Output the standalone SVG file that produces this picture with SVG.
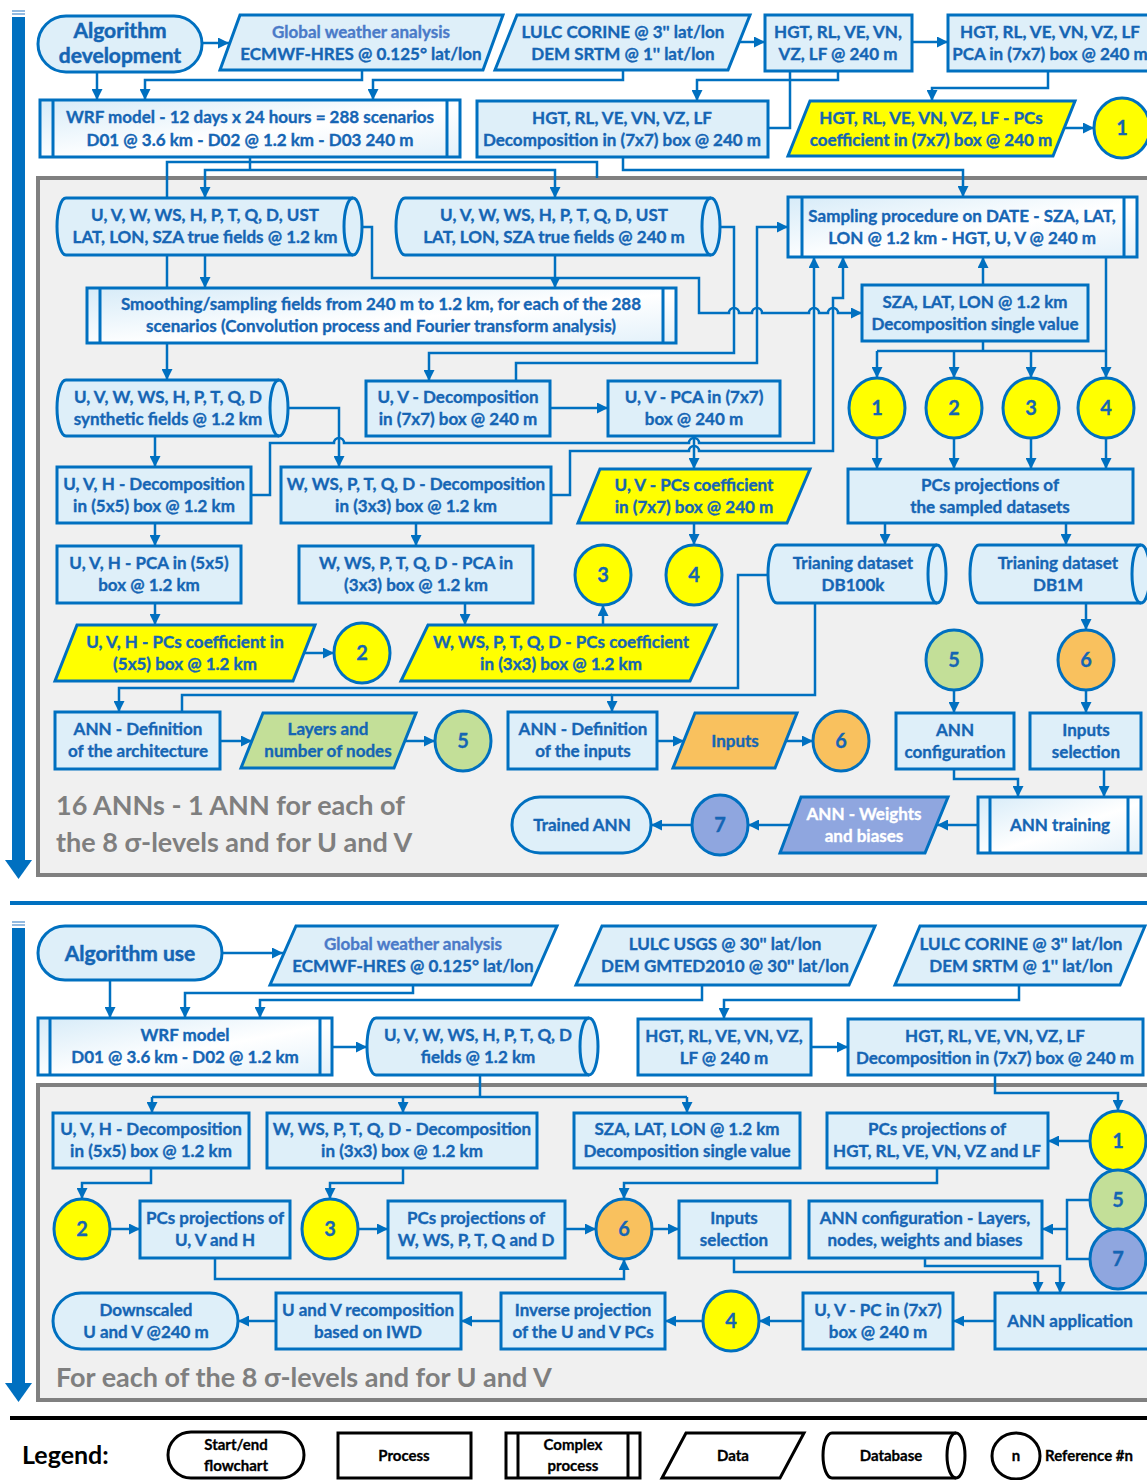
<svg xmlns="http://www.w3.org/2000/svg" width="1147" height="1480" viewBox="0 0 1147 1480">
<style>
.n{fill:#DEEFF9;stroke:#0070C0;stroke-width:3}
.x{fill:url(#cg);stroke:#0070C0;stroke-width:3}
.il{fill:none;stroke:#0070C0;stroke-width:3}
.yl{fill:#FFFF00;stroke:#0070C0;stroke-width:3}
.gr{fill:#C3DF98;stroke:#0070C0;stroke-width:3}
.or{fill:#F9C15E;stroke:#0070C0;stroke-width:3}
.pu{fill:#8FA6DF;stroke:#0070C0;stroke-width:3}
.t{font-family:Lato,'Liberation Sans',sans-serif;font-weight:700;font-size:17px;fill:#1565B4;stroke:#1565B4;stroke-width:0.35;text-anchor:middle}
.tw{fill:#FFFFFF;stroke:#FFFFFF}
.tg{fill:#4A7AC8;stroke:#4A7AC8}
.big{font-family:Lato,'Liberation Sans',sans-serif;font-weight:700;font-size:21px;fill:#1565B4;stroke:#1565B4;stroke-width:0.5;text-anchor:middle}
.num{font-family:Lato,'Liberation Sans',sans-serif;font-weight:700;font-size:20px;fill:#1565B4;stroke:#1565B4;stroke-width:0.3;text-anchor:middle}
.gt{font-family:Lato,'Liberation Sans',sans-serif;font-weight:700;font-size:27px;fill:#7F7F7F}
.c{fill:none;stroke:#0070C0;stroke-width:2.5;marker-end:url(#a)}
.p{fill:none;stroke:#0070C0;stroke-width:2.5}
.sec{fill:#F0F0F0;stroke:#808080;stroke-width:4}
.lg{fill:#FFFFFF;stroke:#000000;stroke-width:3}
.lgl{fill:none;stroke:#000000;stroke-width:3}
.lt{font-family:Lato,'Liberation Sans',sans-serif;font-weight:700;font-size:15px;fill:#000000;stroke:#000000;stroke-width:0.3;text-anchor:middle}
</style>
<defs>
<marker id="a" viewBox="0 0 10 10" refX="10" refY="5" markerWidth="11" markerHeight="11" markerUnits="userSpaceOnUse" orient="auto"><path d="M0,0 L10,5 L0,10 z" fill="#0070C0"/></marker>
<linearGradient id="cg" x1="0" y1="0" x2="1" y2="1"><stop offset="0" stop-color="#D6EBF8"/><stop offset="0.55" stop-color="#FFFFFF"/><stop offset="1" stop-color="#E3F1FA"/></linearGradient>
</defs>
<rect width="1147" height="1480" fill="#FFFFFF"/>

<g id="frame">
<rect class="sec" x="38" y="178" width="1125" height="697"/>
<rect class="sec" x="38" y="1085" width="1125" height="315"/>
<line x1="10" y1="903" x2="1147" y2="903" stroke="#0070C0" stroke-width="4"/>
<line x1="10" y1="1418" x2="1147" y2="1418" stroke="#000000" stroke-width="4"/>
<line x1="12" y1="11" x2="25" y2="11" stroke="#6FA3D6" stroke-width="1.5"/>
<line x1="12" y1="14" x2="25" y2="14" stroke="#6FA3D6" stroke-width="1.5"/>
<rect x="12" y="17" width="13" height="845" fill="#0070C0"/>
<polygon points="5,860 32,860 18.5,879" fill="#0070C0"/>
<line x1="12" y1="922" x2="25" y2="922" stroke="#6FA3D6" stroke-width="1.5"/>
<line x1="12" y1="925" x2="25" y2="925" stroke="#6FA3D6" stroke-width="1.5"/>
<rect x="12" y="928" width="13" height="457" fill="#0070C0"/>
<polygon points="5,1383 32,1383 18.5,1402" fill="#0070C0"/>
</g>

<g id="connectors">
<path class="c" d="M203,43 H229"/>
<path class="c" d="M97,72 V100"/>
<path class="c" d="M362,70 V80 H145 V100"/>
<path class="c" d="M623,70 V80 H373 V100"/>
<path class="c" d="M739,42 H765"/>
<path class="c" d="M838,71 V80 H697 V101"/>
<path class="c" d="M768,128 H790 V42 H948"/>
<path class="c" d="M1048,71 V88 H932 V101"/>
<path class="c" d="M1064,128 H1094"/>
<path class="p" d="M250,157 V170"/>
<path class="p" d="M167,288 V162 H597 V178"/>
<path class="c" d="M380,170 H205 V198"/>
<path class="c" d="M380,170 H555 V198"/>
<path class="c" d="M623,157 V170 H963 V197"/>
<path class="c" d="M205,255 V288"/>
<path class="c" d="M555,255 V288"/>
<path class="c" d="M362,227 H372 V278 H699 V313 H729 A5,5 0 0 1 739,313 H752 A5,5 0 0 1 762,313 H809 A5,5 0 0 1 819,313 H828 A5,5 0 0 1 838,313 H862"/>
<path class="c" d="M720,227 H734 V353 H429 V381"/>
<path class="c" d="M516,381 V363 H757 V227 H788"/>
<path class="c" d="M550,408 H608"/>
<path class="c" d="M167,343 V380"/>
<path class="c" d="M155,436 V467"/>
<path class="c" d="M284,408 H339 V467"/>
<path class="c" d="M251,495 H270 V443 H334 A5,5 0 0 1 344,443 H689 A5,5 0 0 1 699,443 H814 V257"/>
<path class="c" d="M551,495 H570 V451 H689 A5,5 0 0 1 699,451 H833 V298 H843 V257"/>
<path class="c" d="M694,436 V469"/>
<path class="c" d="M694,523 V545"/>
<path class="c" d="M155,523 V546"/>
<path class="c" d="M155,603 V625"/>
<path class="c" d="M416,523 V546"/>
<path class="c" d="M465,603 V625"/>
<path class="c" d="M603,625 V605"/>
<path class="c" d="M304,653 H334"/>
<path class="c" d="M1106,257 V378"/>
<path class="c" d="M983,285 V257"/>
<path class="p" d="M983,341 V351 M877,351 H1106"/>
<path class="c" d="M877,351 V378"/>
<path class="c" d="M954,351 V378"/>
<path class="c" d="M1031,351 V378"/>
<path class="c" d="M877,438 V469"/>
<path class="c" d="M954,438 V469"/>
<path class="c" d="M1031,438 V469"/>
<path class="c" d="M1106,438 V469"/>
<path class="c" d="M885,523 V545"/>
<path class="c" d="M1066,523 V545"/>
<path class="c" d="M1086,603 V630"/>
<path class="c" d="M768,575 H738 V688 H119 V712"/>
<path class="c" d="M815,603 V695 H612 V712"/>
<path class="p" d="M182,712 V695 H612"/>
<path class="c" d="M220,741 H252"/>
<path class="c" d="M405,741 H435"/>
<path class="c" d="M657,741 H684"/>
<path class="c" d="M786,741 H813"/>
<path class="c" d="M954,690 V713"/>
<path class="c" d="M1086,690 V713"/>
<path class="c" d="M954,769 V779 H1018 V797"/>
<path class="c" d="M1104,769 V797"/>
<path class="c" d="M978,825 H937"/>
<path class="c" d="M791,825 H748"/>
<path class="c" d="M692,825 H651"/>

<path class="c" d="M110,980 V1018"/>
<path class="c" d="M222,953 H283"/>
<path class="c" d="M413,985 V993 H185 V1018"/>
<path class="c" d="M702,985 V1000 H260 V1018"/>
<path class="c" d="M1019,985 V1000 H724 V1019"/>
<path class="c" d="M332,1047 H367"/>
<path class="c" d="M811,1047 H848"/>
<path class="p" d="M480,1075 V1097 M152,1097 H687"/>
<path class="c" d="M152,1097 V1113"/>
<path class="c" d="M403,1097 V1113"/>
<path class="c" d="M687,1097 V1113"/>
<path class="c" d="M995,1075 V1093 H1118 V1111"/>
<path class="c" d="M151,1168 V1183 H82 V1199"/>
<path class="c" d="M403,1168 V1183 H330 V1199"/>
<path class="c" d="M937,1168 V1183 H624 V1199"/>
<path class="c" d="M1090,1141 H1048"/>
<path class="c" d="M110,1229 H140"/>
<path class="c" d="M215,1258 V1279 H624 V1259"/>
<path class="c" d="M358,1229 H388"/>
<path class="c" d="M565,1229 H596"/>
<path class="c" d="M652,1229 H679"/>
<path class="p" d="M1090,1200 H1067 V1259 H1090"/>
<path class="c" d="M1067,1229 H1042"/>
<path class="c" d="M734,1258 V1272 H1038 V1293"/>
<path class="c" d="M925,1258 V1266 H1060 V1293"/>
<path class="c" d="M995,1321 H953"/>
<path class="c" d="M803,1321 H759"/>
<path class="c" d="M703,1321 H665"/>
<path class="c" d="M501,1321 H461"/>
<path class="c" d="M276,1321 H238"/>
</g>

<g id="algdev"><rect class="n" x="38" y="16" width="164" height="56" rx="28"/><text class="big"><tspan x="120" y="38">Algorithm</tspan><tspan x="120" y="63">development</tspan></text></g>
<g id="gwa1"><polygon class="n" points="240,15 503,15 483,70 220,70"/><text class="t"><tspan class="tg" x="361" y="38">Global weather analysis</tspan><tspan x="361" y="60">ECMWF-HRES @ 0.125° lat/lon</tspan></text></g>
<g id="lulc1"><polygon class="n" points="517,15 750,15 728,70 495,70"/><text class="t"><tspan x="623" y="38">LULC CORINE @ 3'' lat/lon</tspan><tspan x="623" y="60">DEM SRTM @ 1'' lat/lon</tspan></text></g>
<g id="hgt1"><rect class="n" x="765" y="15" width="147" height="56"/><text class="t"><tspan x="838" y="38">HGT, RL, VE, VN,</tspan><tspan x="838" y="60">VZ, LF  @ 240 m</tspan></text></g>
<g id="pca1"><rect class="n" x="948" y="15" width="212" height="56"/><text class="t"><tspan x="1050" y="38">HGT, RL, VE, VN, VZ, LF</tspan><tspan x="1050" y="60">PCA in (7x7) box @ 240 m</tspan></text></g>
<g id="wrf1"><rect class="x" x="40" y="100" width="420" height="57"/><path class="il" d="M53,100 V157 M447,100 V157"/><text class="t"><tspan x="250" y="123">WRF model - 12 days x 24 hours = 288 scenarios</tspan><tspan x="250" y="146">D01 @ 3.6 km - D02 @ 1.2 km - D03 240 m</tspan></text></g>
<g id="dec1"><rect class="n" x="477" y="101" width="291" height="56"/><text class="t"><tspan x="622" y="124">HGT, RL, VE, VN, VZ, LF</tspan><tspan x="622" y="146">Decomposition in (7x7) box @ 240 m</tspan></text></g>
<g id="pcs1"><polygon class="yl" points="810,101 1075,101 1053,156 788,156"/><text class="t"><tspan x="931" y="124">HGT, RL, VE, VN, VZ, LF - PCs</tspan><tspan x="931" y="146">coefficient in (7x7) box @ 240 m</tspan></text></g>
<g id="ref1a"><ellipse class="yl" cx="1122" cy="128" rx="28" ry="30"/><text class="num" x="1122" y="135">1</text></g>

<g id="cyl1"><path class="n" d="M66,198 H353 A9,28.5 0 0 1 353,255 H66 A9,28.5 0 0 1 66,198 Z"/><path class="il" d="M353,255 A9,28.5 0 0 1 353,198"/><text class="t"><tspan x="205" y="221">U, V, W, WS, H, P, T, Q, D, UST</tspan><tspan x="205" y="243">LAT, LON, SZA true fields @ 1.2 km</tspan></text></g>
<g id="cyl2"><path class="n" d="M405,198 H711 A9,28.5 0 0 1 711,255 H405 A9,28.5 0 0 1 405,198 Z"/><path class="il" d="M711,255 A9,28.5 0 0 1 711,198"/><text class="t"><tspan x="554" y="221">U, V, W, WS, H, P, T, Q, D, UST</tspan><tspan x="554" y="243">LAT, LON, SZA true fields @ 240 m</tspan></text></g>
<g id="samp"><rect class="x" x="788" y="197" width="349" height="60"/><path class="il" d="M802,197 V257 M1124,197 V257"/><text class="t"><tspan x="962" y="222">Sampling procedure on DATE - SZA, LAT,</tspan><tspan x="962" y="244">LON @ 1.2 km - HGT, U, V @ 240 m</tspan></text></g>
<g id="smooth"><rect class="x" x="87" y="288" width="589" height="55"/><path class="il" d="M100,288 V343 M663,288 V343"/><text class="t"><tspan x="381" y="310">Smoothing/sampling fields from 240 m to 1.2 km, for each of the 288</tspan><tspan x="381" y="332">scenarios (Convolution process and Fourier transform analysis)</tspan></text></g>
<g id="sza1"><rect class="n" x="862" y="285" width="226" height="56"/><text class="t"><tspan x="975" y="308">SZA, LAT, LON @ 1.2 km</tspan><tspan x="975" y="330">Decomposition single value</tspan></text></g>
<g id="syn"><path class="n" d="M66,380 H279 A9,28 0 0 1 279,436 H66 A9,28 0 0 1 66,380 Z"/><path class="il" d="M279,436 A9,28 0 0 1 279,380"/><text class="t"><tspan x="168" y="403">U, V, W, WS, H, P, T, Q, D</tspan><tspan x="168" y="425">synthetic fields @ 1.2 km</tspan></text></g>
<g id="uvdec"><rect class="n" x="366" y="381" width="184" height="55"/><text class="t"><tspan x="458" y="403">U, V - Decomposition</tspan><tspan x="458" y="425">in (7x7) box @ 240 m</tspan></text></g>
<g id="uvpca"><rect class="n" x="608" y="381" width="172" height="55"/><text class="t"><tspan x="694" y="403">U, V - PCA in (7x7)</tspan><tspan x="694" y="425">box @ 240 m</tspan></text></g>
<g id="r1"><ellipse class="yl" cx="877" cy="408" rx="28" ry="30"/><text class="num" x="877" y="415">1</text></g>
<g id="r2"><ellipse class="yl" cx="954" cy="408" rx="28" ry="30"/><text class="num" x="954" y="415">2</text></g>
<g id="r3"><ellipse class="yl" cx="1031" cy="408" rx="28" ry="30"/><text class="num" x="1031" y="415">3</text></g>
<g id="r4"><ellipse class="yl" cx="1106" cy="408" rx="28" ry="30"/><text class="num" x="1106" y="415">4</text></g>
<g id="uvhdec"><rect class="n" x="57" y="467" width="194" height="56"/><text class="t"><tspan x="154" y="490">U, V, H - Decomposition</tspan><tspan x="154" y="512">in (5x5) box @ 1.2 km</tspan></text></g>
<g id="wdec"><rect class="n" x="281" y="467" width="270" height="56"/><text class="t"><tspan x="416" y="490">W, WS, P, T, Q, D - Decomposition</tspan><tspan x="416" y="512">in (3x3) box @ 1.2 km</tspan></text></g>
<g id="uvpcs"><polygon class="yl" points="600,469 810,469 787,523 578,523"/><text class="t"><tspan x="694" y="491">U, V - PCs coefficient</tspan><tspan x="694" y="513">in (7x7) box @ 240 m</tspan></text></g>
<g id="pcsproj"><rect class="n" x="848" y="469" width="285" height="54"/><text class="t"><tspan x="990" y="491">PCs projections of</tspan><tspan x="990" y="513">the sampled datasets</tspan></text></g>
<g id="uvhpca"><rect class="n" x="57" y="546" width="184" height="57"/><text class="t"><tspan x="149" y="569">U, V, H - PCA in (5x5)</tspan><tspan x="149" y="591">box @ 1.2 km</tspan></text></g>
<g id="wpca"><rect class="n" x="299" y="546" width="234" height="57"/><text class="t"><tspan x="416" y="569">W, WS, P, T, Q, D - PCA in</tspan><tspan x="416" y="591">(3x3) box @ 1.2 km</tspan></text></g>
<g id="r3b"><ellipse class="yl" cx="603" cy="575" rx="28" ry="30"/><text class="num" x="603" y="582">3</text></g>
<g id="r4b"><ellipse class="yl" cx="694" cy="575" rx="28" ry="30"/><text class="num" x="694" y="582">4</text></g>
<g id="db100k"><path class="n" d="M777,545 H937 A9,29 0 0 1 937,603 H777 A9,29 0 0 1 777,545 Z"/><path class="il" d="M937,603 A9,29 0 0 1 937,545"/><text class="t"><tspan x="853" y="569">Trianing dataset</tspan><tspan x="853" y="591">DB100k</tspan></text></g>
<g id="db1m"><path class="n" d="M979,545 H1141 A9,29 0 0 1 1141,603 H979 A9,29 0 0 1 979,545 Z"/><path class="il" d="M1141,603 A9,29 0 0 1 1141,545"/><text class="t"><tspan x="1058" y="569">Trianing dataset</tspan><tspan x="1058" y="591">DB1M</tspan></text></g>
<g id="uvhpcs"><polygon class="yl" points="77,625 315,625 293,681 55,681"/><text class="t"><tspan x="185" y="648">U, V, H - PCs coefficient in</tspan><tspan x="185" y="670">(5x5) box @ 1.2 km</tspan></text></g>
<g id="r2b"><ellipse class="yl" cx="362" cy="653" rx="28" ry="30"/><text class="num" x="362" y="660">2</text></g>
<g id="wpcs"><polygon class="yl" points="428,625 716,625 690,681 401,681"/><text class="t"><tspan x="561" y="648">W, WS, P, T, Q, D - PCs coefficient</tspan><tspan x="561" y="670">in (3x3) box @ 1.2 km</tspan></text></g>
<g id="r5a"><ellipse class="gr" cx="954" cy="660" rx="28" ry="30"/><text class="num" x="954" y="667">5</text></g>
<g id="r6a"><ellipse class="or" cx="1086" cy="660" rx="28" ry="30"/><text class="num" x="1086" y="667">6</text></g>
<g id="anndef"><rect class="n" x="55" y="712" width="165" height="57"/><text class="t"><tspan x="138" y="735">ANN - Definition</tspan><tspan x="138" y="757">of the architecture</tspan></text></g>
<g id="layers"><polygon class="gr" points="263,713 416,713 394,768 241,768"/><text class="t"><tspan x="328" y="735">Layers and</tspan><tspan x="328" y="757">number of nodes</tspan></text></g>
<g id="r5b"><ellipse class="gr" cx="463" cy="741" rx="28" ry="30"/><text class="num" x="463" y="748">5</text></g>
<g id="anninp"><rect class="n" x="508" y="712" width="149" height="57"/><text class="t"><tspan x="583" y="735">ANN - Definition</tspan><tspan x="583" y="757">of the inputs</tspan></text></g>
<g id="inputs"><polygon class="or" points="695,713 797,713 775,768 673,768"/><text class="t" x="735" y="747">Inputs</text></g>
<g id="r6b"><ellipse class="or" cx="841" cy="741" rx="28" ry="30"/><text class="num" x="841" y="748">6</text></g>
<g id="anncfg"><rect class="n" x="896" y="713" width="118" height="56"/><text class="t"><tspan x="955" y="736">ANN</tspan><tspan x="955" y="758">configuration</tspan></text></g>
<g id="inpsel"><rect class="n" x="1030" y="713" width="111" height="56"/><text class="t"><tspan x="1086" y="736">Inputs</tspan><tspan x="1086" y="758">selection</tspan></text></g>
<g id="trained"><rect class="n" x="512" y="797" width="139" height="56" rx="28"/><text class="t" x="582" y="831">Trained ANN</text></g>
<g id="r7a"><ellipse class="pu" cx="720" cy="825" rx="28" ry="30"/><text class="num tw" x="720" y="832">7</text></g>
<g id="weights"><polygon class="pu" points="801,797 948,797 925,853 780,853"/><text class="t tw"><tspan x="864" y="820">ANN - Weights</tspan><tspan x="864" y="842">and biases</tspan></text></g>
<g id="training"><rect class="x" x="978" y="797" width="163" height="56"/><path class="il" d="M990,797 V853 M1128,797 V853"/><text class="t" x="1060" y="831">ANN training</text></g>
<g id="note1"><text class="gt"><tspan x="56" y="815">16 ANNs - 1 ANN for each of</tspan><tspan x="56" y="852">the 8 σ-levels and for U and V</tspan></text></g>

<g id="alguse"><rect class="n" x="38" y="926" width="184" height="54" rx="27"/><text class="big" x="130" y="961">Algorithm use</text></g>
<g id="gwa2"><polygon class="n" points="296,926 557,926 531,985 270,985"/><text class="t"><tspan class="tg" x="413" y="950">Global weather analysis</tspan><tspan x="413" y="972">ECMWF-HRES @ 0.125° lat/lon</tspan></text></g>
<g id="usgs"><polygon class="n" points="602,926 875,926 849,985 576,985"/><text class="t"><tspan x="725" y="950">LULC USGS @ 30'' lat/lon</tspan><tspan x="725" y="972">DEM GMTED2010 @ 30'' lat/lon</tspan></text></g>
<g id="corine2"><polygon class="n" points="920,926 1145,926 1120,985 895,985"/><text class="t"><tspan x="1021" y="950">LULC CORINE @ 3'' lat/lon</tspan><tspan x="1021" y="972">DEM SRTM @ 1'' lat/lon</tspan></text></g>
<g id="wrf2"><rect class="x" x="38" y="1018" width="294" height="57"/><path class="il" d="M50,1018 V1075 M320,1018 V1075"/><text class="t"><tspan x="185" y="1041">WRF model</tspan><tspan x="185" y="1063">D01 @ 3.6 km - D02 @ 1.2 km</tspan></text></g>
<g id="fields"><path class="n" d="M376,1018 H589 A9,28.5 0 0 1 589,1075 H376 A9,28.5 0 0 1 376,1018 Z"/><path class="il" d="M589,1075 A9,28.5 0 0 1 589,1018"/><text class="t"><tspan x="478" y="1041">U, V, W, WS, H, P, T, Q, D</tspan><tspan x="478" y="1063">fields @ 1.2 km</tspan></text></g>
<g id="hgt2"><rect class="n" x="638" y="1019" width="173" height="56"/><text class="t"><tspan x="724" y="1042">HGT, RL, VE, VN, VZ,</tspan><tspan x="724" y="1064">LF  @ 240 m</tspan></text></g>
<g id="dec2"><rect class="n" x="848" y="1019" width="295" height="56"/><text class="t"><tspan x="995" y="1042">HGT, RL, VE, VN, VZ, LF</tspan><tspan x="995" y="1064">Decomposition in (7x7) box @ 240 m</tspan></text></g>
<g id="uvhdec2"><rect class="n" x="53" y="1113" width="196" height="55"/><text class="t"><tspan x="151" y="1135">U, V, H - Decomposition</tspan><tspan x="151" y="1157">in (5x5) box @ 1.2 km</tspan></text></g>
<g id="wdec2"><rect class="n" x="267" y="1113" width="270" height="55"/><text class="t"><tspan x="402" y="1135">W, WS, P, T, Q, D - Decomposition</tspan><tspan x="402" y="1157">in (3x3) box @ 1.2 km</tspan></text></g>
<g id="sza2"><rect class="n" x="574" y="1113" width="226" height="55"/><text class="t"><tspan x="687" y="1135">SZA, LAT, LON @ 1.2 km</tspan><tspan x="687" y="1157">Decomposition single value</tspan></text></g>
<g id="pcshgt"><rect class="n" x="827" y="1113" width="221" height="55"/><text class="t"><tspan x="937" y="1135">PCs projections of</tspan><tspan x="937" y="1157">HGT, RL, VE, VN, VZ and LF</tspan></text></g>
<g id="r1c"><ellipse class="yl" cx="1118" cy="1141" rx="28" ry="30"/><text class="num" x="1118" y="1148">1</text></g>
<g id="r5c"><ellipse class="gr" cx="1118" cy="1200" rx="28" ry="30"/><text class="num" x="1118" y="1207">5</text></g>
<g id="r7c"><ellipse class="pu" cx="1118" cy="1259" rx="28" ry="30"/><text class="num tw" x="1118" y="1266">7</text></g>
<g id="r2c"><ellipse class="yl" cx="82" cy="1229" rx="28" ry="30"/><text class="num" x="82" y="1236">2</text></g>
<g id="pcsuvh"><rect class="n" x="140" y="1201" width="150" height="57"/><text class="t"><tspan x="215" y="1224">PCs projections of</tspan><tspan x="215" y="1246">U, V and H</tspan></text></g>
<g id="r3c"><ellipse class="yl" cx="330" cy="1229" rx="28" ry="30"/><text class="num" x="330" y="1236">3</text></g>
<g id="pcsw"><rect class="n" x="388" y="1201" width="177" height="57"/><text class="t"><tspan x="476" y="1224">PCs projections of</tspan><tspan x="476" y="1246">W, WS, P, T, Q and D</tspan></text></g>
<g id="r6c"><ellipse class="or" cx="624" cy="1229" rx="28" ry="30"/><text class="num" x="624" y="1236">6</text></g>
<g id="inpsel2"><rect class="n" x="679" y="1201" width="111" height="57"/><text class="t"><tspan x="734" y="1224">Inputs</tspan><tspan x="734" y="1246">selection</tspan></text></g>
<g id="anncfg2"><rect class="n" x="809" y="1201" width="233" height="57"/><text class="t"><tspan x="925" y="1224">ANN configuration - Layers,</tspan><tspan x="925" y="1246">nodes, weights and biases</tspan></text></g>
<g id="downsc"><rect class="n" x="53" y="1293" width="185" height="56" rx="28"/><text class="t"><tspan x="146" y="1316">Downscaled</tspan><tspan x="146" y="1338">U and V @240 m</tspan></text></g>
<g id="recomp"><rect class="n" x="276" y="1293" width="185" height="56"/><text class="t"><tspan x="368" y="1316">U and V recomposition</tspan><tspan x="368" y="1338">based on IWD</tspan></text></g>
<g id="inv"><rect class="n" x="501" y="1293" width="164" height="56"/><text class="t"><tspan x="583" y="1316">Inverse projection</tspan><tspan x="583" y="1338">of the U and V PCs</tspan></text></g>
<g id="r4c"><ellipse class="yl" cx="731" cy="1321" rx="28" ry="30"/><text class="num" x="731" y="1328">4</text></g>
<g id="uvpc"><rect class="n" x="803" y="1293" width="150" height="56"/><text class="t"><tspan x="878" y="1316">U, V - PC in (7x7)</tspan><tspan x="878" y="1338">box @ 240 m</tspan></text></g>
<g id="annapp"><rect class="n" x="995" y="1293" width="160" height="56"/><text class="t" x="1070" y="1327">ANN application</text></g>
<g id="note2"><text class="gt" x="56" y="1387">For each of the 8 σ-levels and for U and V</text></g>

<g id="legend">
<text x="22" y="1464" font-family="Lato,'Liberation Sans',sans-serif" font-weight="700" font-size="25" fill="#000000">Legend:</text>
<rect class="lg" x="168" y="1432" width="136" height="46" rx="23"/><text class="lt"><tspan x="236" y="1450">Start/end</tspan><tspan x="236" y="1471">flowchart</tspan></text>
<rect class="lg" x="338" y="1433" width="133" height="45"/><text class="lt" x="404" y="1461">Process</text>
<rect class="lg" x="506" y="1433" width="134" height="45"/><path class="lgl" d="M518,1433 V1478 M628,1433 V1478"/><text class="lt"><tspan x="573" y="1450">Complex</tspan><tspan x="573" y="1471">process</tspan></text>
<polygon class="lg" points="686,1433 804,1433 780,1478 662,1478"/><text class="lt" x="733" y="1461">Data</text>
<path class="lg" d="M832,1433 H956 A9,22.5 0 0 1 956,1478 H832 A9,22.5 0 0 1 832,1433 Z"/><path class="lgl" d="M956,1478 A9,22.5 0 0 1 956,1433"/><text class="lt" x="891" y="1461">Database</text>
<ellipse class="lg" cx="1016" cy="1456" rx="24" ry="23"/><text class="lt" x="1016" y="1461">n</text>
<text x="1045" y="1461" font-family="Lato,'Liberation Sans',sans-serif" font-weight="700" font-size="15" fill="#000000" stroke="#000000" stroke-width="0.3">Reference #n</text>
</g>
</svg>
